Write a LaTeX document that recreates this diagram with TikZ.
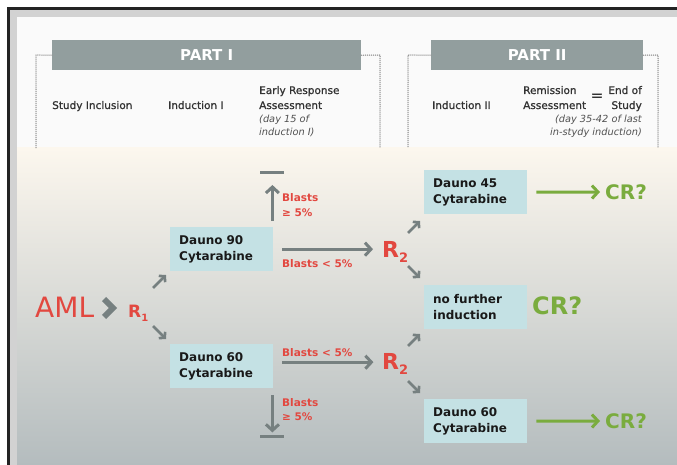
\documentclass[tikz,border=0pt]{standalone}
\usepackage{fontspec}
\setmainfont{DejaVu Sans}
\newfontfamily\hdrfont[FakeBold=1]{DejaVu Sans}
\usetikzlibrary{arrows.meta,calc}
\definecolor{framedark}{RGB}{35,35,35}
\definecolor{bandgray}{RGB}{210,210,210}
\definecolor{hdrbar}{RGB}{146,158,158}
\definecolor{dotgray}{RGB}{150,150,150}
\definecolor{txtdark}{RGB}{50,50,50}
\definecolor{boxfill}{RGB}{196,225,228}
\definecolor{arrgray}{RGB}{118,128,128}
\definecolor{redtxt}{RGB}{226,72,64}
\definecolor{greentxt}{RGB}{122,172,62}
\definecolor{bgtop}{RGB}{252,247,238}
\definecolor{bgmid}{RGB}{232,233,232}
\definecolor{bgbot}{RGB}{180,188,190}
\begin{document}
\begin{tikzpicture}[x=1pt,y=-1pt,
  hdr/.style={fill=hdrbar, text=white, font=\bfseries\fontsize{15}{18}\selectfont, inner sep=0pt, anchor=north west, minimum height=30pt},
  col/.style={text=txtdark, font=\hdrfont\fontsize{10.5}{13}\selectfont, inner sep=0pt},
  note/.style={text=txtdark!85, font=\itshape\fontsize{9.8}{12}\selectfont, inner sep=0pt},
  dotline/.style={dotgray, line width=1.5pt, dash pattern=on 0.01pt off 2pt, line cap=round},
  tbox/.style={fill=boxfill, anchor=north west, minimum width=103pt, minimum height=44pt, text width=85pt, inner xsep=9pt, inner ysep=0pt, align=left, text=black!90, font=\bfseries\fontsize{12}{16}\selectfont},
  redlbl/.style={text=redtxt, font=\bfseries\fontsize{10.5}{15}\selectfont, inner sep=0pt, anchor=base west},
  garr/.style={arrgray, line width=3pt, -{Straight Barb[length=6pt,width=13pt]}},
  sarr/.style={arrgray, line width=2.6pt, -{Straight Barb[length=4pt,width=9pt]}},
  grarr/.style={greentxt, line width=3pt, -{Straight Barb[length=6pt,width=13pt]}},
  stopbar/.style={arrgray, line width=3pt},
  cr/.style={text=greentxt, font=\bfseries\fontsize{20}{24}\selectfont, inner sep=0pt, anchor=west},
  rnode/.style={text=redtxt, inner sep=0pt, anchor=base west}
]
\useasboundingbox (0,0) rectangle (677,465);
% background and frame
\fill[white] (0,0) rectangle (677,465);
\fill[framedark] (7,7) rectangle (677,465);
\fill[bandgray] (10,10) rectangle (677,465);
\fill[white!98!black] (17,17) rectangle (677,148);
\shade[top color=bgtop, middle color=bgmid, bottom color=bgbot] (17,148) rectangle (677,465);

% header bars
\node[hdr, minimum width=309pt] (p1) at (52,40) {PART I};
\node[hdr, minimum width=212pt] (p2) at (431,40) {PART II};
\draw[dotline] (p1.west) -- (36,55) -- (36,148);
\draw[dotline] (p1.east) -- (380,55) -- (380,148);
\draw[dotline] (p2.west) -- (408,55) -- (408,148);
\draw[dotline] (p2.east) -- (658,55) -- (658,148);

% column texts
\node[col, anchor=base west] (si) at (52,109) {Study Inclusion};
\node[col, anchor=base west] (i1) at (168,109) {Induction I};
\node[col, anchor=base west] (er1) at (259,94) {Early Response};
\node[col, anchor=base west] (er2) at (259,109) {Assessment};
\node[note, anchor=base west] (er3) at (259,123) {(day 15 of};
\node[note, anchor=base west] (er4) at (259,136) {induction I)};
\node[col, anchor=base west] (i2) at (432,109) {Induction II};
\node[col, anchor=base west] (ra1) at (523,94) {Remission};
\node[col, anchor=base west] (ra2) at (523,109) {Assessment};
\node[col, font=\hdrfont\fontsize{15}{15}\selectfont] (eq) at (597,97) {=};
\node[col, anchor=base east] (es1) at (642,94) {End of};
\node[col, anchor=base east] (es2) at (642,109) {Study};
\node[note, anchor=base east] (rn1) at (642,123) {(day 35-42 of last};
\node[note, anchor=base east] (rn2) at (642,136) {in-stydy induction)};

% AML and R1
\node[text=redtxt, font=\fontsize{28}{30}\selectfont, inner sep=0pt, anchor=base west] (aml) at (35,317) {AML};
\draw[arrgray, line width=6pt] (104,299) -- (113,308) -- (104,317);
\node[rnode, font=\bfseries\fontsize{17}{17}\selectfont] (r1) at (128,317) {R\raisebox{-4pt}{\fontsize{10}{10}\selectfont 1}};
\coordinate (u1s) at (153,288); \coordinate (u1e) at (166,275);
\coordinate (d1s) at (153,326); \coordinate (d1e) at (166,339);
\draw[sarr] (u1s) -- (u1e);
\draw[sarr] (d1s) -- (d1e);

% induction I boxes
\node[tbox] (d90) at (170,227) {Dauno 90\\Cytarabine};
\node[tbox] (d60) at (170,344) {Dauno 60\\Cytarabine};

% R2 nodes
\node[rnode, font=\bfseries\fontsize{22}{22}\selectfont] (r2a) at (382,257) {R\raisebox{-5pt}{\fontsize{13}{13}\selectfont 2}};
\node[rnode, font=\bfseries\fontsize{22}{22}\selectfont] (r2b) at (382,369) {R\raisebox{-5pt}{\fontsize{13}{13}\selectfont 2}};

% arrows from induction I
\draw[garr] ([xshift=9pt]d90.east) -- ([xshift=-9pt]d90.east -| r2a.west);
\draw[garr] ($(d60.east)+(9,-4)$) -- ($(d60.east)+(100,-4)$);
\draw[garr] ($(d90.north east)+(-1,-6)$) -- ($(d90.north east)+(-1,-42)$);
\draw[stopbar] ($(d90.north east)+(-13,-54)$) -- ++(24,0);
\draw[garr] ($(d60.south east)+(-1,7)$) -- ($(d60.south east)+(-1,44)$);
\draw[stopbar] ($(d60.south east)+(-13,48)$) -- ++(24,0);

% red labels
\node[redlbl] (bh1) at (282,202) {Blasts};
\node[redlbl] (bh2) at (282,217) {≥ 5\%};
\node[redlbl] (bl1) at (282,267) {Blasts < 5\%};
\node[redlbl] (bl2) at (282,356) {Blasts < 5\%};
\node[redlbl] (bh3) at (282,406) {Blasts};
\node[redlbl] (bh4) at (282,420) {≥ 5\%};

% small arrows from R2
\coordinate (u2s) at (408,233); \coordinate (u2e) at (420,221);
\coordinate (d2s) at (408,266); \coordinate (d2e) at (420,278);
\coordinate (u3s) at (408,346); \coordinate (u3e) at (420,334);
\coordinate (d3s) at (408,381); \coordinate (d3e) at (420,393);
\draw[sarr] (u2s) -- (u2e);
\draw[sarr] (d2s) -- (d2e);
\draw[sarr] (u3s) -- (u3e);
\draw[sarr] (d3s) -- (d3e);

% induction II boxes
\node[tbox] (d45) at (424,170) {Dauno 45\\Cytarabine};
\node[tbox] (nfi) at (424,285) {no further\\induction};
\node[tbox] (d60b) at (424,399) {Dauno 60\\Cytarabine};

% CR
\node[cr] (cr1) at (605,192) {CR?};
\node[cr, font=\bfseries\fontsize{24}{28}\selectfont] (cr2) at (532,306) {CR?};
\node[cr] (cr3) at (605,421) {CR?};
\draw[grarr] ([xshift=9pt]d45.east) -- ([xshift=-5pt]cr1.west);
\draw[grarr] ([xshift=9pt]d60b.east) -- ([xshift=-5pt]cr3.west);
\end{tikzpicture}
\end{document}
